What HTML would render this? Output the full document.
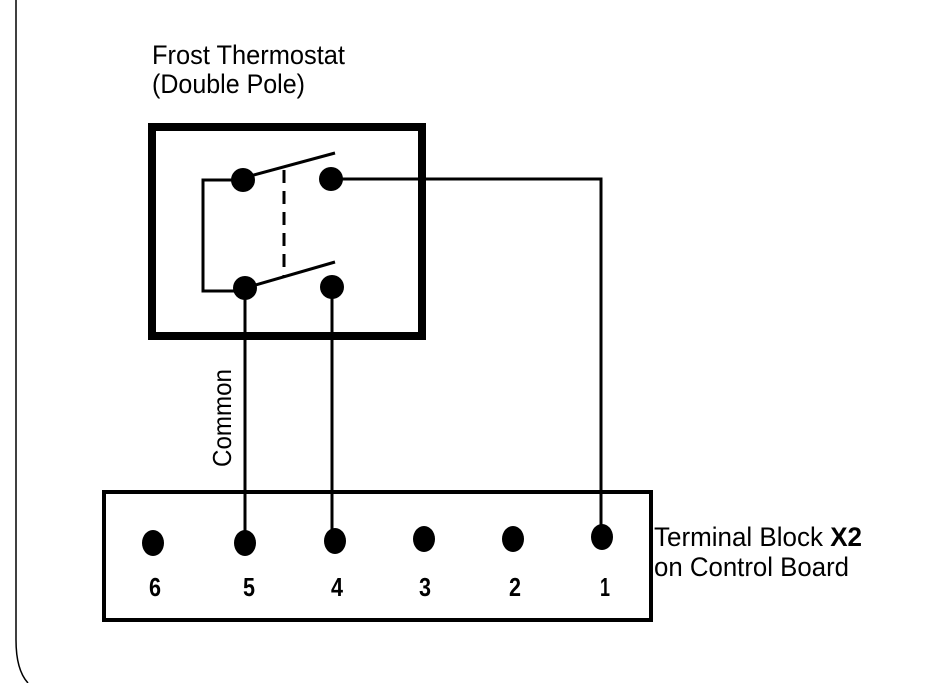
<!DOCTYPE html>
<html><head><style>html,body{margin:0;padding:0;background:#fff;}svg{display:block}</style></head>
<body>
<svg width="945" height="683" viewBox="0 0 945 683" xmlns="http://www.w3.org/2000/svg" font-family="Liberation Sans, sans-serif">
<path d="M16 0 V640 Q16 670 28 683" fill="none" stroke="#000" stroke-width="1.5"/>
<text x="152" y="64" font-size="27" textLength="193" lengthAdjust="spacingAndGlyphs">Frost Thermostat</text>
<text x="152" y="93" font-size="27" textLength="153" lengthAdjust="spacingAndGlyphs">(Double Pole)</text>
<rect x="152" y="127" width="270" height="209" fill="none" stroke="#000" stroke-width="8"/>
<g stroke="#000" stroke-width="3" fill="none">
<polyline points="243,180 203,180 203,291 245,291"/>
<line x1="250" y1="176" x2="335" y2="153"/>
<line x1="252" y1="286" x2="335" y2="262"/>
<line x1="284" y1="170" x2="284" y2="277" stroke-dasharray="13,8"/>
<polyline points="331,179 601,179 601,537"/>
<line x1="245" y1="288" x2="245" y2="543"/>
<line x1="332" y1="287" x2="332" y2="543"/>
</g>
<g fill="#000">
<circle cx="243" cy="180" r="12"/>
<circle cx="331" cy="179" r="12"/>
<circle cx="245" cy="288" r="12"/>
<circle cx="332" cy="287" r="12"/>
</g>
<text transform="translate(231,418) rotate(-90)" font-size="26" text-anchor="middle" textLength="98" lengthAdjust="spacingAndGlyphs">Common</text>
<rect x="104" y="492" width="547" height="128" fill="none" stroke="#000" stroke-width="4"/>
<g fill="#000">
<ellipse cx="153" cy="543" rx="11" ry="13"/>
<ellipse cx="245" cy="543" rx="11" ry="13"/>
<ellipse cx="335" cy="541" rx="11" ry="13"/>
<ellipse cx="424" cy="539" rx="11" ry="13"/>
<ellipse cx="513" cy="539" rx="11" ry="13"/>
<ellipse cx="602" cy="537" rx="11" ry="13"/>
</g>
<g font-size="26" font-weight="bold" text-anchor="middle">
<text x="155" y="596" textLength="12" lengthAdjust="spacingAndGlyphs">6</text>
<text x="249" y="596" textLength="12" lengthAdjust="spacingAndGlyphs">5</text>
<text x="337" y="596" textLength="12" lengthAdjust="spacingAndGlyphs">4</text>
<text x="425" y="596" textLength="12" lengthAdjust="spacingAndGlyphs">3</text>
<text x="515" y="596" textLength="12" lengthAdjust="spacingAndGlyphs">2</text>
<text x="605" y="596" textLength="10" lengthAdjust="spacingAndGlyphs">1</text>
</g>
<text x="654" y="546" font-size="27" textLength="208" lengthAdjust="spacingAndGlyphs">Terminal Block <tspan font-weight="bold">X2</tspan></text>
<text x="654" y="576" font-size="27" textLength="195" lengthAdjust="spacingAndGlyphs">on Control Board</text>
</svg>
</body></html>
